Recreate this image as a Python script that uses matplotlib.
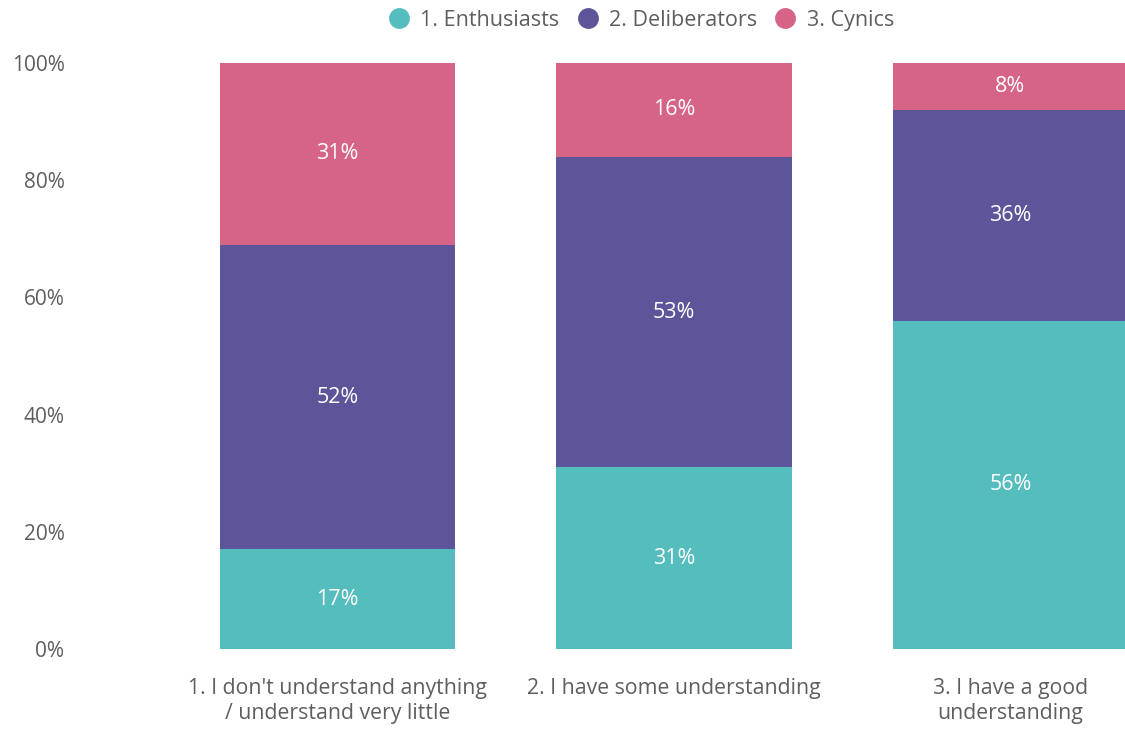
import matplotlib
matplotlib.use("Agg")
from matplotlib import pyplot as plt
from matplotlib.lines import Line2D

plt.rcParams['font.family'] = ['Open Sans', 'DejaVu Sans']

categories = ["1. I don't understand anything\n/ understand very little",
              "2. I have some understanding",
              "3. I have a good\nunderstanding"]
series = ["1. Enthusiasts", "2. Deliberators", "3. Cynics"]
enthusiasts = [17, 31, 56]
deliberators = [52, 53, 36]
cynics = [31, 16, 8]
colors = ["#55BDBE", "#5C5599", "#D66487"]
yticks = [0, 20, 40, 60, 80, 100]

fig = plt.figure(figsize=(11.25, 7.31), dpi=100)
ax = fig.add_axes([70 / 1125, 1 - 649 / 731, 1 - 70 / 1125, (649 - 63) / 731])

x = list(range(len(categories)))
bottom = [0] * len(categories)
for vals, col in zip([enthusiasts, deliberators, cynics], colors):
    ax.bar(x, vals, width=0.7, bottom=bottom, color=col, linewidth=0)
    for xi, b, v in zip(x, bottom, vals):
        ax.text(xi, b + v / 2, f"{v}%", ha="center", va="center",
                color="white", fontsize=15.5)
    bottom = [b + v for b, v in zip(bottom, vals)]

ax.set_xlim((70 - 337.5) / 336.5, (1125 - 337.5) / 336.5)
ax.set_ylim(0, 100)
ax.set_yticks(yticks)
ax.set_yticklabels([f"{t}%" for t in yticks], fontsize=15, color="#605E5C")
ax.set_xticks(x)
ax.set_xticklabels(categories, fontsize=15.3, color="#605E5C", linespacing=1.25)
ax.tick_params(axis="both", length=0)
ax.tick_params(axis="y", pad=4)
ax.tick_params(axis="x", pad=21)
for s in ax.spines.values():
    s.set_visible(False)

handles = [Line2D([], [], marker="o", linestyle="", markersize=14,
                  markerfacecolor=c, markeredgecolor=c) for c in colors]
fig.legend(handles, series, loc="center", bbox_to_anchor=(0.565, 0.972),
           ncol=3, frameon=False, fontsize=15.5, handletextpad=0.0,
           columnspacing=0.3, labelcolor="#605E5C")

fig.savefig("out.png", dpi=100)
